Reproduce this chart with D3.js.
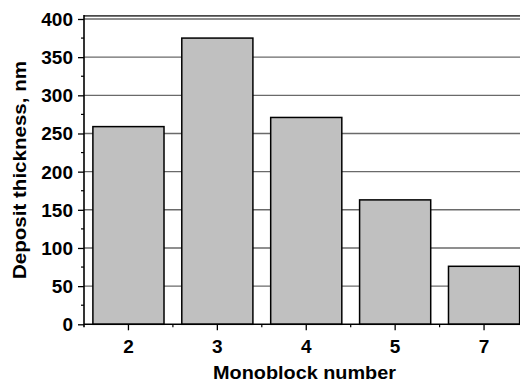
<!DOCTYPE html>
<html>
<head>
<meta charset="utf-8">
<script src="https://cdn.jsdelivr.net/npm/d3@7"></script>
<style>
  html, body { margin: 0; padding: 0; background: #fff; }
  svg { display: block; }
  text { font-family: "Liberation Sans", Arial, sans-serif; font-weight: bold; fill: #000; }
</style>
</head>
<body>
<svg id="chart" width="520" height="382"></svg>
<script>
// Deposit thickness measured on each monoblock
const monoblocks = ["2", "3", "4", "5", "7"];
const thickness = [259, 375, 271, 163, 76];
const yTicks = [0, 50, 100, 150, 200, 250, 300, 350, 400];
const yMinorTicks = [25, 75, 125, 175, 225, 275, 325, 375];

const svg = d3.select("#chart");
const W = 520, H = 382;
const plotLeft = 84, plotBottom = 324.3, plotTop = 19, step = 88.9;

const x = d3.scaleBand()
  .domain(monoblocks)
  .range([plotLeft, plotLeft + step * monoblocks.length])
  .paddingInner(0.2)
  .paddingOuter(0.1);

const y = d3.scaleLinear().domain([0, 400]).range([plotBottom, plotTop]);

// horizontal grid
svg.append("g")
  .selectAll("line")
  .data(yTicks.filter(d => d > 0))
  .join("line")
  .attr("x1", plotLeft).attr("x2", W)
  .attr("y1", d => y(d)).attr("y2", d => y(d))
  .attr("stroke", "#6a6a6a")
  .attr("stroke-width", 1.4);

// frame top edge
svg.append("line")
  .attr("x1", plotLeft).attr("x2", W)
  .attr("y1", y(404)).attr("y2", y(404))
  .attr("stroke", "#4a4a4a")
  .attr("stroke-width", 1.8);

// bars
svg.append("g")
  .selectAll("rect")
  .data(monoblocks.map((m, i) => ({ m, v: thickness[i] })))
  .join("rect")
  .attr("x", d => x(d.m))
  .attr("width", x.bandwidth())
  .attr("y", d => y(d.v))
  .attr("height", d => y(0) - y(d.v))
  .attr("fill", "#c0c0c0")
  .attr("stroke", "#000")
  .attr("stroke-width", 1.5);

// y axis
const yAxis = d3.axisLeft(y).tickValues(yTicks).tickSize(6).tickPadding(5);
const gy = svg.append("g").attr("transform", `translate(${plotLeft},0)`).call(yAxis);
gy.select(".domain").remove();
gy.selectAll(".tick line").attr("stroke", "#000").attr("stroke-width", 1.3);
gy.selectAll(".tick text").style("font-size", "19px").attr("dy", "0.34em");

svg.append("g")
  .selectAll("line")
  .data(yMinorTicks)
  .join("line")
  .attr("x1", plotLeft - 3).attr("x2", plotLeft)
  .attr("y1", d => y(d)).attr("y2", d => y(d))
  .attr("stroke", "#000").attr("stroke-width", 1.2);

svg.append("line")
  .attr("x1", plotLeft).attr("x2", plotLeft)
  .attr("y1", y(404) - 1).attr("y2", plotBottom + 3)
  .attr("stroke", "#000").attr("stroke-width", 1.6);

// x axis
const xAxis = d3.axisBottom(x).tickSize(6).tickPadding(9.5);
const gx = svg.append("g").attr("transform", `translate(0,${plotBottom})`).call(xAxis);
gx.select(".domain").remove();
gx.selectAll(".tick line").attr("stroke", "#000").attr("stroke-width", 1.3);
gx.selectAll(".tick text").style("font-size", "19px");

svg.append("g")
  .selectAll("line")
  .data(monoblocks.slice(1))
  .join("line")
  .attr("x1", d => x(d) - x.step() * x.paddingInner() / 2)
  .attr("x2", d => x(d) - x.step() * x.paddingInner() / 2)
  .attr("y1", plotBottom).attr("y2", plotBottom + 3)
  .attr("stroke", "#000").attr("stroke-width", 1.2);

svg.append("line")
  .attr("x1", plotLeft).attr("x2", W)
  .attr("y1", plotBottom).attr("y2", plotBottom)
  .attr("stroke", "#000").attr("stroke-width", 1.6);

// axis titles
svg.append("text")
  .attr("x", 304.5).attr("y", 378.5)
  .attr("text-anchor", "middle")
  .attr("textLength", 183)
  .attr("lengthAdjust", "spacingAndGlyphs")
  .style("font-size", "19px")
  .text("Monoblock number");

svg.append("text")
  .attr("transform", "translate(25.5,170) rotate(-90)")
  .attr("text-anchor", "middle")
  .attr("textLength", 218)
  .attr("lengthAdjust", "spacingAndGlyphs")
  .style("font-size", "19px")
  .text("Deposit thickness, nm");
</script>
</body>
</html>
